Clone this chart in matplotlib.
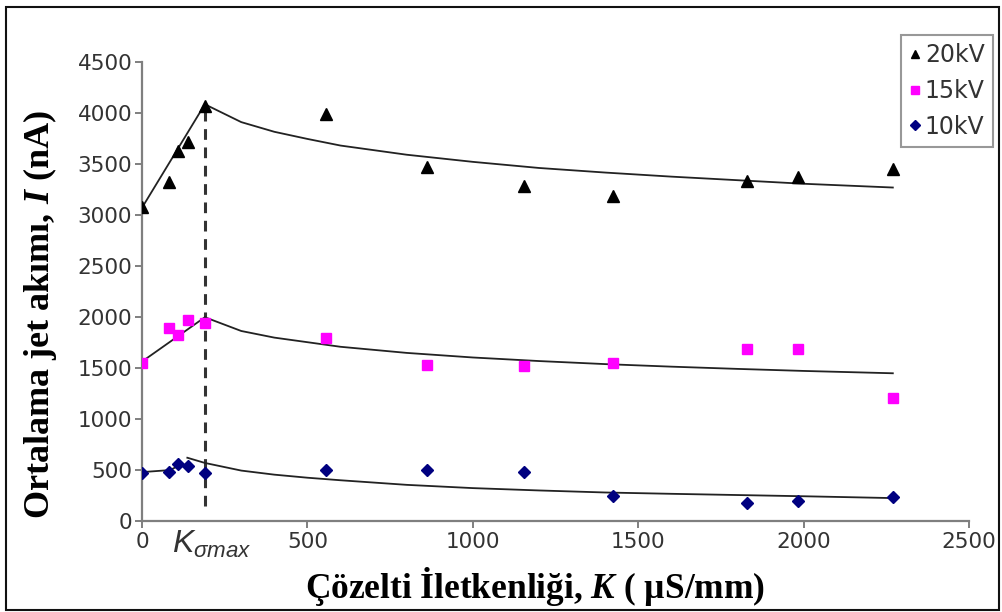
import matplotlib
matplotlib.use("Agg")
import matplotlib.pyplot as plt
from matplotlib.patches import Rectangle

plt.rcParams['font.family'] = ['DejaVu Sans']
plt.rcParams['mathtext.fontset'] = 'custom'
plt.rcParams['mathtext.rm'] = 'Liberation Sans'
plt.rcParams['mathtext.it'] = 'Liberation Sans:italic'
plt.rcParams['mathtext.bf'] = 'Liberation Serif:bold'
plt.rcParams['mathtext.bfit'] = 'Liberation Serif:italic:bold'

# Measured points (conductivity K in uS/mm, current I in nA)
k_points = [0, 82, 110, 140, 190, 555, 862, 1156, 1424, 1828, 1982, 2272]
i_20kv = [3080, 3325, 3630, 3715, 4070, 3990, 3472, 3286, 3184, 3335, 3368, 3449]
i_15kv = [1549, 1886, 1820, 1968, 1935, 1788, 1526, 1519, 1549, 1680, 1680, 1205]
i_10kv = [463, 473, 554, 535, 469, 496, 496, 479, 244, 175, 191, 228]

# Trend lines
rise_k_20 = [0, 190]
rise_i_20 = [3070, 4085]
fall_k_20 = [190, 300, 400, 500, 600, 800, 1000, 1200, 1400, 1600, 1800, 2000, 2270]
fall_i_20 = [4085, 3910, 3815, 3745, 3680, 3590, 3520, 3460, 3415, 3375, 3340, 3305, 3268]

rise_k_15 = [0, 190]
rise_i_15 = [1560, 1995]
fall_k_15 = [190, 300, 400, 500, 600, 800, 1000, 1200, 1400, 1600, 1800, 2000, 2270]
fall_i_15 = [1995, 1860, 1795, 1750, 1705, 1645, 1600, 1565, 1535, 1510, 1488, 1468, 1445]

rise_k_10 = [0, 85, 115]
rise_i_10 = [475, 495, 545]
fall_k_10 = [137, 190, 300, 400, 500, 600, 800, 1000, 1200, 1400, 1600, 1800, 2000, 2270]
fall_i_10 = [616, 565, 490, 450, 420, 395, 350, 318, 295, 275, 262, 250, 238, 220]

K_SIGMA_MAX = 190
dash_i = [140, 4060]

x_ticks = [0, 500, 1000, 1500, 2000, 2500]
y_ticks = [0, 500, 1000, 1500, 2000, 2500, 3000, 3500, 4000, 4500]

fig = plt.figure(figsize=(10.03, 6.12), dpi=100)
ax = fig.add_axes([0.1416, 0.1495, 0.8244, 0.7492])

line_kw = dict(color='#222222', lw=1.3, zorder=2)
ax.plot(rise_k_20, rise_i_20, **line_kw)
ax.plot(fall_k_20, fall_i_20, **line_kw)
ax.plot(rise_k_15, rise_i_15, **line_kw)
ax.plot(fall_k_15, fall_i_15, **line_kw)
ax.plot(rise_k_10, rise_i_10, **line_kw)
ax.plot(fall_k_10, fall_i_10, **line_kw)

ax.plot([K_SIGMA_MAX, K_SIGMA_MAX], dash_i, color='#333333', lw=2.2,
        dashes=(3.5, 2.5), zorder=1)

ax.plot(k_points, i_20kv, '^', color='black', ms=8, ls='none', label='20kV', zorder=3)
ax.plot(k_points, i_15kv, 's', color='#ff00ff', ms=7, ls='none', label='15kV', zorder=3)
ax.plot(k_points, i_10kv, 'D', color='#000080', ms=6, ls='none', label='10kV', zorder=3)

ax.set_xlim(0, 2500)
ax.set_ylim(0, 4500)
ax.set_xticks(x_ticks)
ax.set_yticks(y_ticks)
for s in ['top', 'right']:
    ax.spines[s].set_visible(False)
for s in ['left', 'bottom']:
    ax.spines[s].set_color('#7f7f7f')
    ax.spines[s].set_linewidth(1.6)
ax.tick_params(axis='both', colors='#7f7f7f', width=1.4, length=5,
               labelsize=15.5, labelcolor='#333333')
ax.tick_params(axis='y', pad=2)

ax.annotate(r'$K_{\sigma max}$', xy=(212, 0), xycoords=('data', 'axes fraction'),
            xytext=(0, -6), textcoords='offset points', ha='center', va='top',
            fontsize=23, color='#333333')

ax.set_xlabel(r'Çözelti İletkenliği, $\mathbfit{K}$ ( µS/mm)', family='Liberation Serif',
              fontweight='bold', fontsize=25.5)
ax.set_ylabel(r'Ortalama jet akımı, $\mathbfit{I}$ (nA)', family='Liberation Serif',
              fontweight='bold', fontsize=26)
ax.xaxis.set_label_coords(0.475, -0.098)
ax.yaxis.set_label_coords(-0.101, 0.45)

leg = fig.legend(loc='upper right', bbox_to_anchor=(0.990, 0.943), fontsize=17,
                 frameon=True, fancybox=False, handlelength=0.5, handletextpad=0.15,
                 borderpad=0.35, labelspacing=0.5, borderaxespad=0, markerscale=0.8)
leg.get_frame().set_edgecolor('#7f7f7f')
leg.get_frame().set_linewidth(1.5)
for t in leg.get_texts():
    t.set_color('#333333')

fig.patches.append(Rectangle((0.006, 0.004), 0.99, 0.985, transform=fig.transFigure,
                             fill=False, edgecolor='#111111', lw=1.5))

fig.savefig('out.png', dpi=100)
